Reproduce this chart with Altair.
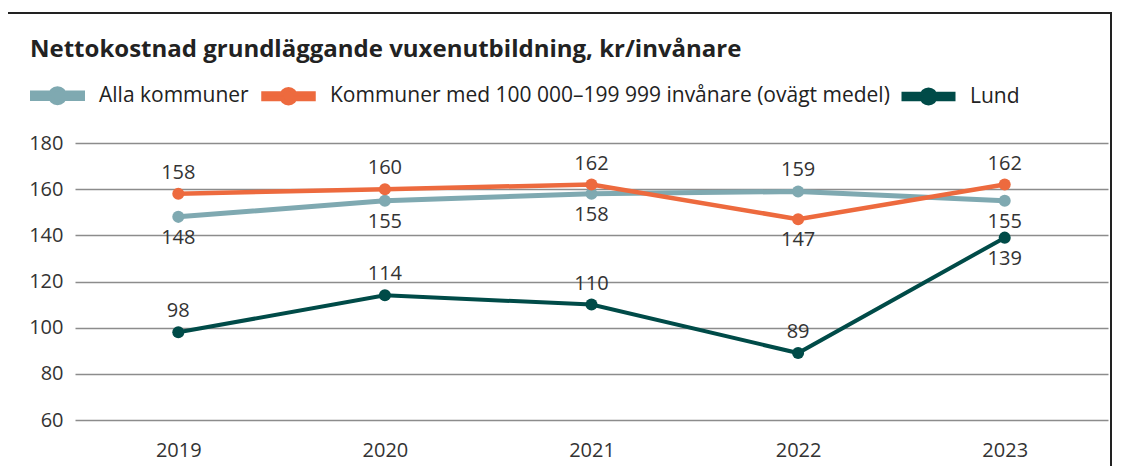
import altair as alt
import pandas as pd

years = ["2019", "2020", "2021", "2022", "2023"]
series = ["Alla kommuner", "Kommuner med 100 000–199 999 invånare (ovägt medel)", "Lund"]
alla = [148, 155, 158, 159, 155]
kommuner = [158, 160, 162, 147, 162]
lund = [98, 114, 110, 89, 139]
alla_side = ["below", "below", "below", "above", "below"]
kommuner_side = ["above", "above", "above", "below", "above"]
lund_side = ["above", "above", "above", "above", "below"]
colors = ["#7FA9B1", "#ED6A3E", "#004B48"]
y_ticks = [60, 80, 100, 120, 140, 160, 180]
title_text = "Nettokostnad grundläggande vuxenutbildning, kr/invånare"

rows = []
for name, vals, sides in zip(series, [alla, kommuner, lund], [alla_side, kommuner_side, lund_side]):
    for yr, v, s in zip(years, vals, sides):
        rows.append({"year": yr, "series": name, "value": v, "side": s})
df = pd.DataFrame(rows)

FONT = "Open Sans"
W, H = 1033, 277

x = alt.X("year:O", scale=alt.Scale(type="point", padding=0.5),
          axis=alt.Axis(title=None, labelAngle=0, grid=False, domain=False, ticks=False,
                        labelPadding=20, labelFontSize=20, labelColor="#333", labelFont=FONT))
y = alt.Y("value:Q", scale=alt.Scale(domain=[60, 180], nice=False, zero=False),
          axis=alt.Axis(title=None, values=y_ticks, domain=False, ticks=False, grid=True,
                        gridColor="#8c8c8c", gridWidth=1.5, labelPadding=12,
                        labelFontSize=20, labelColor="#333", labelFont=FONT))

base = alt.Chart(df)

# legend glyph: a thick line with a dot in the middle (polygon outline)
legend_path = ("M-2.5,-0.28L-0.642,-0.28L-0.495,-0.495L-0.268,-0.647L0,-0.7L0.268,-0.647"
               "L0.495,-0.495L0.642,-0.28L2.5,-0.28L2.5,0.28L0.642,0.28L0.495,0.495"
               "L0.268,0.647L0,0.7L-0.268,0.647L-0.495,0.495L-0.642,0.28L-2.5,0.28Z")


def make_legend():
    return alt.Legend(title=None, orient="none", legendX=-30, legendY=-60,
                      direction="horizontal", columns=3, symbolType=legend_path,
                      symbolSize=400, symbolStrokeWidth=0, labelOffset=29,
                      columnPadding=5, labelFont=FONT, labelFontSize=21,
                      labelColor="#222", labelLimit=800)


lines = base.mark_line().encode(
    x=x, y=y,
    stroke=alt.Stroke("series:N", scale=alt.Scale(domain=series, range=colors), legend=make_legend()),
    strokeWidth=alt.StrokeWidth("series:N", scale=alt.Scale(domain=series, range=[5, 4, 4]), legend=None),
)

points = base.mark_circle(size=145, opacity=1).encode(
    x=x, y=y,
    fill=alt.Fill("series:N", scale=alt.Scale(domain=series, range=colors), legend=make_legend()),
)

above = base.transform_filter(alt.datum.side == "above").mark_text(
    dy=-21, fontSize=20, font=FONT, color="#333", baseline="middle").encode(
    x=x, y=y, text=alt.Text("value:Q"))
below = base.transform_filter(alt.datum.side == "below").mark_text(
    dy=21, fontSize=20, font=FONT, color="#333", baseline="middle").encode(
    x=x, y=y, text=alt.Text("value:Q"))

frame = alt.Chart(pd.DataFrame({"frame": [0]})).mark_rect(
    filled=False, stroke="#222", strokeWidth=2).encode(
    x=alt.value(-68), x2=alt.value(1036), y=alt.value(-130), y2=alt.value(340))

chart = alt.layer(frame, lines, points, above, below).properties(
    width=W, height=H,
    title=alt.TitleParams(title_text, anchor="start", frame="group", dx=-45, dy=69, offset=0,
                          font=FONT, fontSize=24, fontWeight="bold", color="#222",
                          baseline="alphabetic"),
    autosize=alt.AutoSizeParams(type="none"),
    padding={"left": 67, "top": 135, "right": 5, "bottom": 46},
).configure_view(stroke=None)

chart.save("out.html", embed_options={"renderer": "svg", "actions": False})
